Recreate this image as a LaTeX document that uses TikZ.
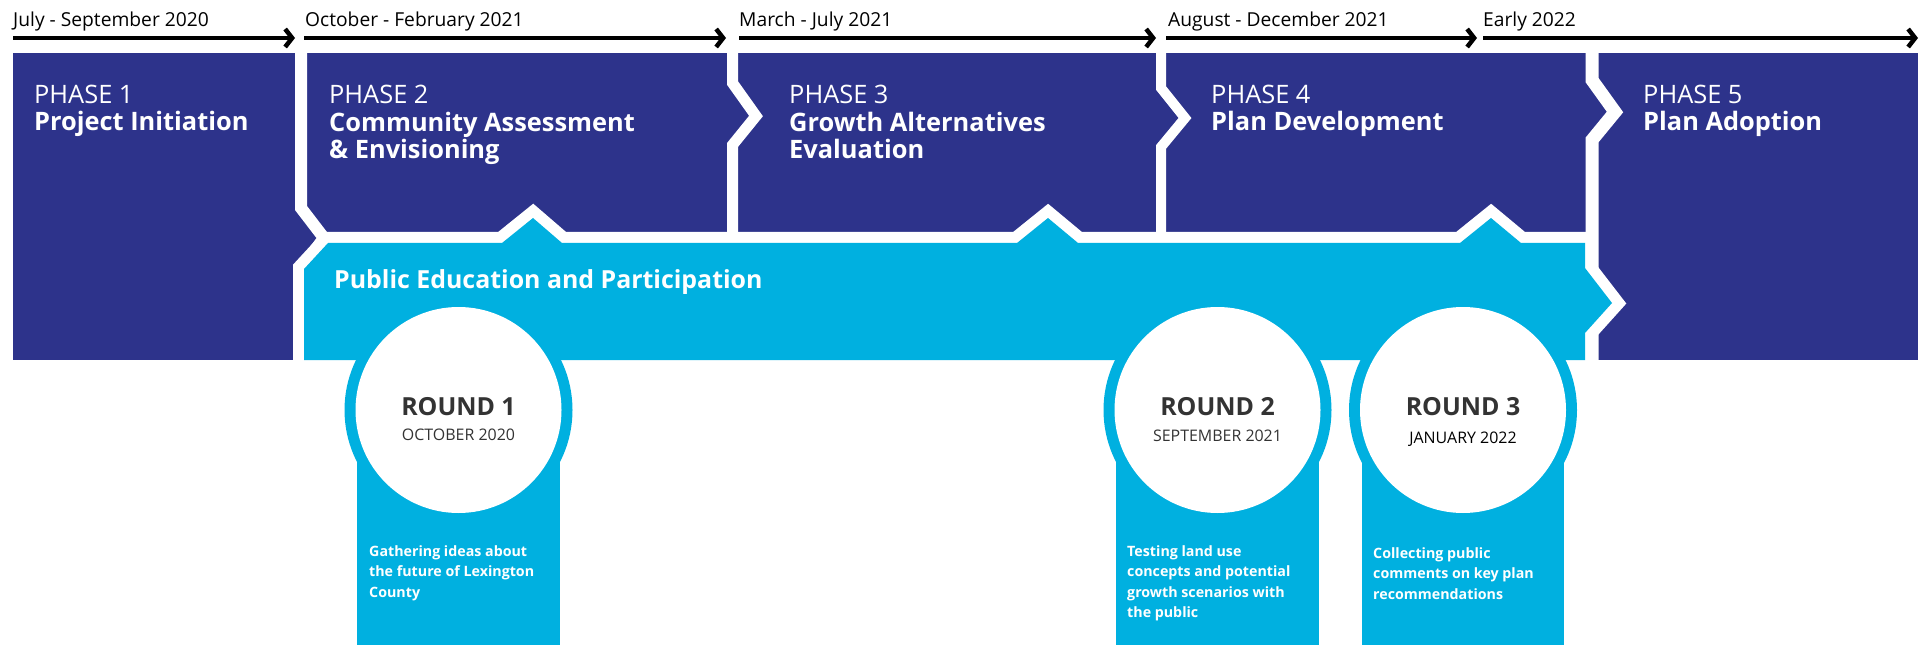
\documentclass[tikz,border=0pt]{standalone}
\usepackage{fontspec}
\setmainfont{Open Sans}
\usetikzlibrary{arrows.meta}
\definecolor{navy}{RGB}{45,51,139}
\definecolor{sky}{RGB}{0,176,224}
\definecolor{txtgray}{RGB}{51,51,51}
\begin{document}
\begin{tikzpicture}[x=1bp,y=-1bp,
  datelbl/.style={anchor=base west,inner sep=0pt,font=\fontsize{19.3}{22}\selectfont,text=black},
  tl/.style={line width=4.5bp,-{Straight Barb[length=7bp,width=18bp]}},
  phasetxt/.style={anchor=base west,inner sep=0pt,align=left,text=white,font=\fontsize{25.5}{28}\selectfont},
  seam/.style={white,line join=miter},
  roundt/.style={anchor=base,inner sep=0pt,font=\bfseries\fontsize{25}{28}\selectfont,text=txtgray},
  roundd/.style={anchor=base,inner sep=0pt,font=\fontsize{16}{18}\selectfont,text=txtgray},
  desc/.style={anchor=base west,inner sep=0pt,align=left,text=white,font=\bfseries\fontsize{14.3}{20.5}\selectfont}]
\useasboundingbox (0,0) rectangle (1927,645);
\fill[white] (0,0) rectangle (1927,645);
% timeline
\coordinate (a1s) at (13,38);   \coordinate (a1e) at (295,38);
\coordinate (a2s) at (304,38);  \coordinate (a2e) at (726,38);
\coordinate (a3s) at (739,38);  \coordinate (a3e) at (1156,38);
\coordinate (a4s) at (1166,38); \coordinate (a4e) at (1477,38);
\coordinate (a5s) at (1483,38); \coordinate (a5e) at (1918,38);
\draw[tl] (a1s) -- (a1e);
\draw[tl] (a2s) -- (a2e);
\draw[tl] (a3s) -- (a3e);
\draw[tl] (a4s) -- (a4e);
\draw[tl] (a5s) -- (a5e);
\node[datelbl] (d1) at (13,27) {July - September 2020};
\node[datelbl] (d2) at (305,27) {October - February 2021};
\node[datelbl] (d3) at (739,27) {March - July 2021};
\node[datelbl] (d4) at (1168,27) {August - December 2021};
\node[datelbl] (d5) at (1483,27) {Early 2022};
% phase blocks
\fill[navy] (13,53) rectangle (1918,360);
\draw[seam,line width=12bp] (301,50) -- (301,208) -- (324,238) -- (301,269) -- (301,366);
\draw[seam,line width=11bp] (732.5,50) -- (732.5,83) -- (756,116) -- (732.5,145) -- (732.5,240);
\draw[seam,line width=10bp] (1161,50) -- (1161,88) -- (1185,118) -- (1161,147) -- (1161,240);
\draw[seam,line width=13bp] (1592,50) -- (1592,80) -- (1615,112) -- (1592,140) -- (1592,366);
% public band
\draw[white,line width=22bp,line join=miter] (328,243) -- (502,243) -- (533,218) -- (562,243) -- (1017,243) -- (1048,218) -- (1078,243) -- (1460,243) -- (1491,218) -- (1521,243) -- (1585,243) -- (1585,268) -- (1612,303) -- (1585,333) -- (1585,360) -- (304,360) -- (304,269) -- cycle;
\fill[sky] (328,243) -- (502,243) -- (533,218) -- (562,243) -- (1017,243) -- (1048,218) -- (1078,243) -- (1460,243) -- (1491,218) -- (1521,243) -- (1585,243) -- (1585,268) -- (1612,303) -- (1585,333) -- (1585,360) -- (304,360) -- (304,269) -- cycle;
\node[anchor=base west,inner sep=0pt,text=white,font=\bfseries\fontsize{25}{28}\selectfont] (pub) at (334,289) {Public Education and Participation};
% phase texts (anchor = baseline of last line)
\node[phasetxt] (p1) at (34,131) {PHASE 1\\\textbf{Project Initiation}};
\node[phasetxt] (p2) at (329,159) {PHASE 2\\\textbf{Community Assessment}\\\textbf{\& Envisioning}};
\node[phasetxt] (p3) at (789,159) {PHASE 3\\\textbf{Growth Alternatives}\\\textbf{Evaluation}};
\node[phasetxt] (p4) at (1211,131) {PHASE 4\\\textbf{Plan Development}};
\node[phasetxt] (p5) at (1643,131) {PHASE 5\\\textbf{Plan Adoption}};
% rounds
\fill[sky] (357,410) rectangle (560,645);
\fill[sky] (1116,410) rectangle (1319,645);
\fill[sky] (1362,410) rectangle (1564,645);
\fill[sky] (458.5,410) circle[radius=114];
\fill[white] (458.5,410) circle[radius=103];
\fill[sky] (1217.5,410) circle[radius=114];
\fill[white] (1217.5,410) circle[radius=103];
\fill[sky] (1463,410) circle[radius=114];
\fill[white] (1463,410) circle[radius=103];
\node[roundt] (r1) at (458.5,415) {ROUND 1};
\node[roundd] (r1d) at (458.5,440) {OCTOBER 2020};
\node[roundt] (r2) at (1217.5,415) {ROUND 2};
\node[roundd] (r2d) at (1217.5,441) {SEPTEMBER 2021};
\node[roundt] (r3) at (1463,415) {ROUND 3};
\node[roundd,text=black] (r3d) at (1463,443) {JANUARY 2022};
\node[desc] (t1) at (369,597) {Gathering ideas about\\the future of Lexington\\County};
\node[desc] (t2) at (1127,617.5) {Testing land use\\concepts and potential\\growth scenarios with\\the public};
\node[desc] (t3) at (1373,599) {Collecting public\\comments on key plan\\recommendations};
\end{tikzpicture}
\end{document}
